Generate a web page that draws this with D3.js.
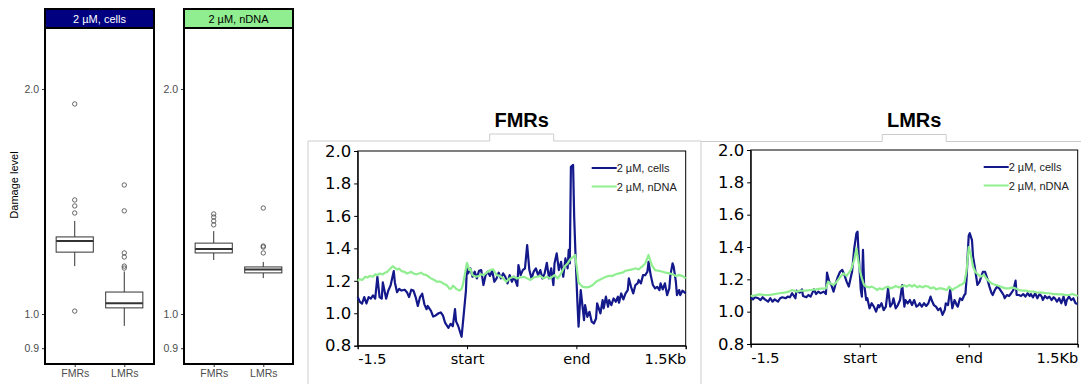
<!DOCTYPE html>
<html>
<head>
<meta charset="utf-8">
<script src="https://cdn.jsdelivr.net/npm/d3@7"></script>
<style>
body { margin: 0; background: #fff; }
svg { display: block; }
</style>
</head>
<body>
<div id="container"></div>
<script>
"use strict";

const width = 1081;
const height = 384;

// ---- boxplot data (log scale) ----
const panelNames = ["2 µM, cells", "2 µM, nDNA"];
const stripFills = ["#000080", "#90ee90"];
const stripTextColors = ["#ffffff", "#000000"];
const boxCategories = ["FMRs", "LMRs"];
// [lower whisker, q1, median, q3, upper whisker]
const cellsStats = [[1.159, 1.210, 1.252, 1.268, 1.332], [0.964, 1.019, 1.034, 1.070, 1.140]];
const ndnaStats = [[1.181, 1.207, 1.222, 1.244, 1.291], [1.117, 1.135, 1.147, 1.156, 1.174]];
const cellsOutliers = [[1.910, 1.421, 1.395, 1.365, 1.009], [1.488, 1.374, 1.207, 1.192, 1.159, 1.152]];
const ndnaOutliers = [[1.361, 1.348, 1.332, 1.316], [1.386, 1.233, 1.229, 1.207]];
const boxTicks = [0.9, 1.0, 2.0];

// ---- profile data: [bin, value], bins 0-100 upstream, 100-200 body, 200-300 downstream ----
const profileTickBins = [0, 100, 200, 300];
const profileTickLabels = ["-1.5", "start", "end", "1.5Kb"];
const profileYTicks = [0.8, 1.0, 1.2, 1.4, 1.6, 1.8, 2.0];
const seriesNames = ["2 µM, cells", "2 µM, nDNA"];

const fmrCells = [[0,1.10],[2,1.07],[4,1.06],[6,1.10],[8,1.06],[10,1.10],[12,1.09],[14,1.11],[16,1.09],[18,1.225],[20,1.10],[22,1.09],[23,1.19],[26,1.09],[28,1.14],[30,1.17],[33,1.26],[34,1.19],[36,1.13],[38,1.15],[40,1.14],[43,1.145],[45,1.13],[47,1.10],[49,1.145],[51,1.14],[53,1.10],[55,1.045],[57,1.10],[59,1.12],[61,1.055],[63,1.025],[64,1.045],[67,1.015],[69,0.98],[71,0.985],[74,1.00],[76,1.005],[78,0.985],[80,0.94],[83,0.91],[85,0.935],[87,0.92],[89,1.025],[90,0.95],[92,0.92],[95,0.855],[97,0.995],[99,1.14],
  [100,1.30],[101,1.246],[103,1.277],[105,1.225],[107,1.256],[109,1.215],[111,1.262],[113,1.266],[115,1.174],[117,1.235],[119,1.256],[121,1.23],[123,1.262],[125,1.194],[127,1.215],[129,1.25],[131,1.215],[133,1.246],[135,1.225],[137,1.184],[139,1.235],[141,1.194],[143,1.225],[146,1.168],[147,1.297],[149,1.235],[151,1.266],[153,1.277],[155,1.42],[157,1.266],[159,1.215],[161,1.256],[163,1.277],[165,1.235],[167,1.266],[169,1.215],[171,1.246],[173,1.311],[175,1.215],[177,1.277],[179,1.174],[180,1.307],[182,1.369],[184,1.266],[186,1.317],[188,1.225],[190,1.338],[192,1.277],[193,1.39],[194,1.307],[195,1.903],[197,1.914],[198,1.595],[199,1.40],
  [200,1.225],[201,1.061],[202,0.917],[204,1.143],[205,1.081],[207,0.958],[208,1.05],[210,0.978],[212,1.009],[214,0.948],[216,0.937],[218,0.968],[219,1.061],[222,0.999],[224,1.081],[225,1.03],[227,1.102],[229,1.04],[230,1.081],[232,1.05],[234,1.091],[236,1.071],[238,1.102],[239,1.065],[241,1.122],[243,1.085],[245,1.122],[247,1.143],[248,1.215],[250,1.163],[252,1.122],[254,1.174],[256,1.184],[257,1.205],[259,1.184],[261,1.235],[263,1.235],[265,1.256],[266,1.317],[268,1.235],[270,1.174],[272,1.153],[274,1.163],[276,1.143],[277,1.184],[279,1.147],[281,1.184],[283,1.112],[285,1.153],[286,1.235],[288,1.307],[289,1.287],[291,1.194],[292,1.112],[294,1.143],[295,1.112],[297,1.139],[300,1.122]];

const fmrNdna = [[0,1.20],[2,1.21],[4,1.205],[7,1.225],[9,1.22],[11,1.23],[14,1.225],[16,1.24],[18,1.235],[20,1.245],[23,1.24],[25,1.25],[27,1.255],[29,1.27],[32,1.29],[34,1.28],[36,1.27],[38,1.275],[40,1.26],[43,1.255],[45,1.245],[47,1.25],[49,1.255],[51,1.245],[54,1.24],[56,1.245],[58,1.25],[60,1.24],[63,1.235],[65,1.225],[67,1.215],[70,1.205],[72,1.195],[75,1.195],[77,1.19],[79,1.18],[81,1.175],[83,1.16],[84,1.15],[86,1.155],[87,1.17],[89,1.16],[90,1.15],[92,1.145],[93,1.14],[95,1.15],[96,1.17],[98,1.24],
  [100,1.31],[102,1.266],[103,1.275],[105,1.235],[108,1.225],[111,1.23],[113,1.24],[115,1.235],[118,1.25],[121,1.266],[124,1.27],[127,1.235],[130,1.23],[133,1.215],[136,1.194],[139,1.215],[142,1.225],[146,1.215],[149,1.22],[152,1.225],[155,1.215],[158,1.205],[161,1.22],[164,1.225],[167,1.23],[170,1.215],[173,1.225],[176,1.215],[180,1.235],[183,1.215],[186,1.245],[189,1.287],[192,1.307],[195,1.338],[197,1.345],[199,1.359],
  [200,1.30],[201,1.246],[202,1.19],[204,1.174],[206,1.163],[209,1.159],[212,1.163],[215,1.174],[218,1.194],[221,1.205],[224,1.215],[227,1.225],[230,1.23],[233,1.23],[236,1.24],[239,1.246],[242,1.25],[245,1.262],[248,1.266],[251,1.27],[254,1.277],[257,1.27],[260,1.287],[263,1.307],[266,1.359],[269,1.297],[272,1.266],[275,1.262],[279,1.256],[282,1.25],[285,1.246],[288,1.24],[291,1.23],[294,1.235],[297,1.23],[300,1.215]];

const lmrCells = [[0,1.089],[2,1.076],[4,1.089],[7,1.083],[9,1.072],[11,1.089],[13,1.076],[16,1.062],[18,1.083],[20,1.062],[22,1.076],[25,1.062],[27,1.083],[29,1.089],[32,1.083],[34,1.093],[36,1.089],[38,1.114],[41,1.083],[42,1.13],[45,1.118],[47,1.138],[48,1.097],[51,1.089],[53,1.103],[55,1.093],[58,1.138],[60,1.109],[62,1.124],[64,1.114],[67,1.124],[69,1.109],[70,1.241],[72,1.186],[74,1.165],[76,1.124],[78,1.175],[80,1.217],[82,1.247],[84,1.258],[86,1.227],[88,1.186],[90,1.155],[92,1.217],[93,1.247],[95,1.392],[97,1.485],[98,1.495],[99,1.36],
  [101,1.134],[102,1.093],[103,1.382],[104,1.175],[106,1.072],[107,1.083],[109,1.021],[111,1.052],[113,1.031],[115,1.0],[117,1.041],[118,1.027],[120,1.052],[122,1.01],[124,1.031],[126,1.144],[128,1.031],[130,1.052],[131,1.083],[133,1.021],[135,1.041],[137,1.072],[139,1.165],[141,1.031],[142,1.072],[144,1.052],[146,1.072],[148,1.041],[150,1.072],[152,1.031],[154,1.041],[155,1.052],[157,1.031],[159,1.052],[161,1.035],[163,1.052],[165,1.093],[166,1.072],[168,1.041],[170,1.031],[172,1.01],[174,1.021],[176,0.98],[178,1.01],[179,1.052],[181,1.041],[183,1.134],[185,1.021],[187,1.072],[189,1.041],[190,1.031],[192,1.083],[194,1.072],[196,1.103],[197,1.11],[198,1.2],[199,1.34],
  [200,1.47],[201,1.485],[203,1.443],[204,1.34],[206,1.258],[208,1.165],[210,1.186],[211,1.206],[213,1.247],[215,1.247],[217,1.206],[219,1.155],[221,1.114],[222,1.103],[224,1.134],[226,1.155],[228,1.144],[230,1.124],[232,1.103],[233,1.083],[235,1.103],[237,1.097],[239,1.114],[241,1.134],[243,1.192],[244,1.103],[246,1.103],[248,1.097],[250,1.109],[252,1.093],[254,1.114],[256,1.097],[257,1.109],[259,1.089],[261,1.114],[263,1.083],[265,1.109],[267,1.093],[268,1.072],[270,1.097],[272,1.083],[274,1.093],[276,1.072],[278,1.089],[279,1.083],[281,1.062],[283,1.083],[285,1.052],[287,1.093],[289,1.041],[290,1.072],[292,1.093],[294,1.072],[296,1.083],[298,1.052],[300,1.047]];

const lmrNdna = [[0,1.097],[4,1.101],[8,1.107],[13,1.103],[17,1.103],[22,1.109],[26,1.114],[31,1.118],[35,1.124],[38,1.134],[42,1.124],[46,1.13],[51,1.13],[55,1.134],[60,1.138],[64,1.142],[69,1.144],[71,1.186],[73,1.175],[76,1.165],[79,1.186],[82,1.213],[85,1.237],[88,1.221],[92,1.258],[95,1.32],[97,1.392],
  [100,1.258],[102,1.206],[104,1.165],[106,1.155],[109,1.15],[111,1.155],[114,1.144],[116,1.134],[118,1.144],[121,1.138],[123,1.148],[126,1.155],[128,1.144],[131,1.15],[133,1.159],[136,1.15],[138,1.155],[141,1.163],[143,1.155],[146,1.165],[148,1.155],[150,1.165],[153,1.15],[155,1.159],[158,1.15],[160,1.159],[163,1.155],[165,1.144],[168,1.15],[170,1.138],[173,1.144],[175,1.144],[178,1.138],[180,1.134],[182,1.155],[185,1.134],[187,1.144],[190,1.155],[192,1.165],[194,1.17],[196,1.18],[198,1.25],
  [200,1.40],[202,1.35],[204,1.278],[206,1.247],[209,1.227],[211,1.217],[214,1.227],[216,1.206],[219,1.186],[222,1.171],[225,1.165],[228,1.159],[231,1.15],[234,1.144],[237,1.144],[240,1.15],[243,1.144],[246,1.134],[249,1.13],[252,1.13],[256,1.124],[259,1.124],[262,1.12],[265,1.118],[268,1.118],[271,1.114],[274,1.114],[277,1.109],[280,1.109],[283,1.107],[286,1.107],[289,1.103],[292,1.103],[295,1.109],[300,1.097]];

const navy = "#13188a";
const green = "#90ee90";

const svg = d3.select("#container").append("svg")
    .attr("width", width)
    .attr("height", height);

// ---------------- boxplots ----------------
const boxTop = 28, boxBottom = 364, stripTop = 9;
const boxPanelLeft = [45, 184];
const boxPanelWidth = 109;
const yBox = d3.scaleLog().domain([1, 2]).range([314, 89]);

function drawBoxPanel(p, stats, outliers) {
    const x0 = boxPanelLeft[p];
    const g = svg.append("g");
    const x = d3.scalePoint().domain(boxCategories).range([x0, x0 + boxPanelWidth]).padding(0.6);
    const bw = x.step() * 0.75;

    // y axis
    const yAxis = d3.axisLeft(yBox).tickValues(boxTicks).tickFormat(d3.format(".1f")).tickSize(3).tickPadding(3);
    const ya = g.append("g").attr("transform", `translate(${x0},0)`).call(yAxis);
    ya.select(".domain").remove();
    ya.selectAll("line").attr("stroke", "#333");
    ya.selectAll("text").attr("fill", "#4d4d4d").style("font", "10.5px 'Liberation Sans', Arial, sans-serif");

    // x axis
    const xAxis = d3.axisBottom(x).tickSize(3).tickPadding(3);
    const xa = g.append("g").attr("transform", `translate(0,${boxBottom})`).call(xAxis);
    xa.select(".domain").remove();
    xa.selectAll("line").attr("stroke", "#333");
    xa.selectAll("text").attr("fill", "#4d4d4d").style("font", "10.5px 'Liberation Sans', Arial, sans-serif");

    // boxes
    boxCategories.forEach((c, i) => {
        const s = stats[i];
        const cx = x(c);
        g.append("line").attr("x1", cx).attr("x2", cx).attr("y1", yBox(s[0])).attr("y2", yBox(s[1]))
            .attr("stroke", "#333").attr("stroke-width", 1);
        g.append("line").attr("x1", cx).attr("x2", cx).attr("y1", yBox(s[3])).attr("y2", yBox(s[4]))
            .attr("stroke", "#333").attr("stroke-width", 1);
        g.append("rect").attr("x", cx - bw / 2).attr("width", bw)
            .attr("y", yBox(s[3])).attr("height", yBox(s[1]) - yBox(s[3]))
            .attr("fill", "#fff").attr("stroke", "#333").attr("stroke-width", 1);
        g.append("line").attr("x1", cx - bw / 2).attr("x2", cx + bw / 2).attr("y1", yBox(s[2])).attr("y2", yBox(s[2]))
            .attr("stroke", "#333").attr("stroke-width", 2);
        g.selectAll(null).data(outliers[i]).enter().append("circle")
            .attr("cx", cx).attr("cy", d => yBox(d)).attr("r", 2.2)
            .attr("fill", "none").attr("stroke", "#444").attr("stroke-width", 0.8);
    });

    // panel border + strip
    g.append("rect").attr("x", x0).attr("y", boxTop).attr("width", boxPanelWidth).attr("height", boxBottom - boxTop)
        .attr("fill", "none").attr("stroke", "#000").attr("stroke-width", 2);
    g.append("rect").attr("x", x0).attr("y", stripTop).attr("width", boxPanelWidth).attr("height", boxTop - stripTop)
        .attr("fill", stripFills[p]).attr("stroke", "#000").attr("stroke-width", 2);
    g.append("text").attr("x", x0 + boxPanelWidth / 2).attr("y", (stripTop + boxTop) / 2 + 4)
        .attr("text-anchor", "middle").attr("fill", stripTextColors[p])
        .style("font", "11px 'Liberation Sans', Arial, sans-serif").text(panelNames[p]);
}

drawBoxPanel(0, cellsStats, cellsOutliers);
drawBoxPanel(1, ndnaStats, ndnaOutliers);

svg.append("text").attr("transform", "translate(18,185) rotate(-90)")
    .attr("text-anchor", "middle").attr("fill", "#000")
    .style("font", "11px 'Liberation Sans', Arial, sans-serif").text("Damage level");

// ---------------- profiles ----------------
const frameColor = "#cccccc";

function drawProfile(opt) {
    const g = svg.append("g");
    const x = d3.scaleLinear().domain([0, 300]).range([opt.left, opt.right]);
    const y = d3.scaleLinear().domain([0.8, 2.0]).range([opt.bottom, opt.top]);

    // light grey tab frame
    const tx = (opt.left + opt.right) / 2;
    g.append("path")
        .attr("d", `M${opt.frameLeft},${height} V${opt.frameTop} H${tx - 32} V${opt.frameTop - 7} H${tx + 32} V${opt.frameTop} H${opt.frameRight}`)
        .attr("fill", "none").attr("stroke", frameColor).attr("stroke-width", 1);

    g.append("text").attr("x", tx).attr("y", 127).attr("text-anchor", "middle")
        .style("font", "bold 20px 'Liberation Sans', Arial, sans-serif").text(opt.title);

    const yAxis = d3.axisLeft(y).tickValues(profileYTicks).tickFormat(d3.format(".1f")).tickSize(3.5).tickPadding(3);
    const ya = g.append("g").attr("transform", `translate(${opt.left},0)`).call(yAxis);
    ya.selectAll("text").style("font", "16.5px 'DejaVu Sans', sans-serif").attr("fill", "#000");

    const xAxis = d3.axisBottom(x).tickValues(profileTickBins).tickFormat((d, i) => profileTickLabels[i]).tickSize(3.5).tickPadding(5);
    const xa = g.append("g").attr("transform", `translate(0,${opt.bottom})`).call(xAxis);
    xa.selectAll("text").style("font", "14.5px 'DejaVu Sans', sans-serif").attr("fill", "#000")
        .attr("text-anchor", (d, i) => i === 0 ? "start" : (i === profileTickBins.length - 1 ? "end" : "middle"));
    g.selectAll(".domain").attr("stroke", "#000");

    // top / right spines
    g.append("rect").attr("x", opt.left).attr("y", opt.top).attr("width", opt.right - opt.left).attr("height", opt.bottom - opt.top)
        .attr("fill", "none").attr("stroke", "#000").attr("stroke-width", 1);

    const line = d3.line().x(d => x(d[0])).y(d => y(d[1]));
    g.append("path").datum(opt.cells).attr("d", line)
        .attr("fill", "none").attr("stroke", navy).attr("stroke-width", 2.2).attr("stroke-linejoin", "round");
    g.append("path").datum(opt.ndna).attr("d", line)
        .attr("fill", "none").attr("stroke", green).attr("stroke-width", 2.2).attr("stroke-linejoin", "round");

    // legend
    const lx = opt.right - 94, ly = opt.top + 17;
    [navy, green].forEach((c, i) => {
        g.append("line").attr("x1", lx).attr("x2", lx + 25).attr("y1", ly + i * 18.5).attr("y2", ly + i * 18.5)
            .attr("stroke", c).attr("stroke-width", 2);
        g.append("text").attr("x", lx + 25).attr("y", ly + i * 18.5 + 4)
            .style("font", "11px 'Liberation Sans', Arial, sans-serif").attr("fill", "#222").text(seriesNames[i]);
    });
}

drawProfile({ title: "FMRs", left: 357.7, right: 685.7, top: 151, bottom: 345.7,
    frameLeft: 308, frameRight: 701, frameTop: 141, cells: fmrCells, ndna: fmrNdna });
drawProfile({ title: "LMRs", left: 750.7, right: 1077.7, top: 150, bottom: 344,
    frameLeft: 701, frameRight: 1081, frameTop: 141.5, cells: lmrCells, ndna: lmrNdna });
</script>
</body>
</html>
